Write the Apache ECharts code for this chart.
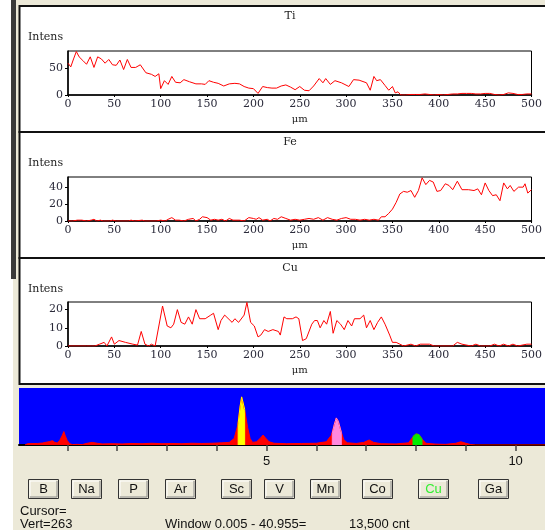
<!DOCTYPE html>
<html>
<head>
<meta charset="utf-8">
<script src="https://cdn.jsdelivr.net/npm/echarts@6/dist/echarts.min.js"></script>
<style>
html,body{margin:0;padding:0;background:#fff;}
#chart{width:545px;height:530px;}
</style>
</head>
<body>
<div id="chart"></div>
<script>
// ---------- DATA ----------
const panelTitles = ['Ti', 'Fe', 'Cu'];
const profileTicks = [0, 50, 100, 150, 200, 250, 300, 350, 400, 450, 500];
const tiTicks = [0, 50];
const feTicks = [0, 20, 40];
const cuTicks = [0, 10, 20];

const tiUm = [0,3,6,9,12,16,20,24,28,32,36,40,44,48,52,56,60,64,68,73,78,84,90,94,98,100,104,108,112,116,121,125,131,138,144,148,152,157,162,168,174,180,185,190,195,200,205,210,215,220,225,230,235,240,245,250,255,260,265,271,275,278,283,288,295,303,308,314,322,326,330,333,337,342,346,350,353,356,359,364,370,375,380,385,390,395,400,405,410,415,420,425,430,435,440,445,450,455,460,465,470,475,480,485,490,495,497,500];
const tiIntens = [60,53,68,82,72,65,58,72,52,72,68,60,67,57,56,66,48,67,52,52,57,42,39,35,40,12,27,20,35,24,23,29,25,21,21,20,27,24,22,17,21,22,21,16,13,12,3,16,14,13,13,17,19,15,10,16,9,8,17,31,23,31,20,27,23,16,29,28,23,9,35,27,29,18,9,16,4,6,0,0,1,1,1,2,1,0,1,0,1,2,2,3,3,3,2,2,3,3,1,0,1,4,3,1,1,2,5,2];

const feUm = [0,5,10,12,15,20,25,28,31,35,38,45,48,52,65,68,72,80,83,95,100,105,108,112,116,120,125,130,135,138,142,145,150,154,158,162,166,170,174,178,185,190,195,200,203,206,210,215,218,222,226,230,235,240,245,250,255,260,265,270,275,280,285,290,295,300,305,310,315,320,325,330,335,338,342,346,350,354,358,362,366,370,374,378,382,386,390,394,398,402,407,411,415,420,425,432,438,442,446,450,454,458,462,466,470,474,477,481,486,491,493,496,500];
const feIntens = [0,0,1,2,1,0,1,2,0,1,0,0,1,0,0,1,0,1,0,0,1,0,2,4,1,1,0,2,3,0,2,5,4,1,2,1,2,0,3,1,1,0,4,3,2,4,1,2,0,3,2,5,3,1,2,1,2,3,2,4,1,4,2,1,3,4,2,2,1,2,1,2,1,5,5,9,14,22,32,35,34,36,28,36,51,43,48,46,35,36,44,42,37,47,37,37,36,38,31,45,36,30,31,24,45,38,42,35,40,40,44,33,37];

const cuUm = [0,20,21,25,29,34,39,42,47,50,55,62,70,75,79,83,87,90,94,102,107,111,114,118,122,126,130,134,138,142,148,154,157,162,165,169,177,180,184,190,193,197,201,205,208,212,216,221,227,229,233,236,242,246,249,253,257,263,266,269,272,276,279,281,283,286,290,294,298,302,306,309,315,319,322,326,330,334,338,342,347,350,354,358,362,370,375,380,390,395,415,420,425,435,440,445,455,460,465,470,475,480,485,495,500];
const cuIntens = [0,0,1,0,0,1,2,0,5,1,3,2,1,0.5,8,1,0,1,0,22,11,10,12,20,13,12,16,12,20,15,15,17,18,9,14,17,13,15,13,17,24,13,11,5,6,9,8,9,8,6,16,15,15,16,15,3,4,12,14,14,10,14,12,13,19,7,14,12,9,14,11,15,15,17,10,14,9,13,16,12,6,2,2,1,0,1,0,1,1,0,0,2,1,0,1,0,0,1,0,1,0,1,0,1,1];

const specKeV = [0.15,0.2,0.4,0.5,0.6,0.65,0.7,0.75,0.8,0.85,0.9,0.93,0.96,1.0,1.05,1.1,1.2,1.3,1.4,1.5,1.6,1.7,1.9,2.1,2.3,2.5,2.7,2.9,3.1,3.3,3.5,3.7,3.9,4.1,4.25,4.35,4.42,4.47,4.5,4.53,4.57,4.62,4.67,4.72,4.8,4.87,4.93,4.98,5.05,5.15,5.4,5.7,6.0,6.2,6.3,6.36,6.4,6.44,6.5,6.55,6.62,6.8,6.95,7.06,7.15,7.3,7.6,7.85,7.93,8.0,8.06,8.13,8.2,8.4,8.6,8.8,8.9,9.0,9.1,9.2,10.6];
const specCounts = [0,6,7,9,14,16,20,12,9,22,45,62,42,20,6,2,3,2,8,12,8,5,6,5,7,6,8,6,7,6,8,7,8,10,12,30,90,180,222,215,150,80,30,12,15,30,46,32,15,8,6,7,8,15,45,95,125,110,60,25,10,7,12,23,12,6,5,10,35,51,48,25,8,4,3,8,15,8,2,0,0];

const tiPeakKeV = [4.43,4.43,4.47,4.5,4.53,4.56,4.56];
const tiPeakCounts = [0,100,180,222,215,165,0];
const fePeakKeV = [6.32,6.32,6.36,6.4,6.44,6.5,6.5];
const fePeakCounts = [0,55,95,125,110,60,0];
const cuPeakKeV = [7.94,7.94,8.0,8.06,8.12,8.12];
const cuPeakCounts = [0,40,51,48,28,0];

const energyTicks = [1,2,3,4,5,6,7,8,9,10];
const energyLabels = [5,10];
const elementButtons = ['B','Na','P','Ar','Sc','V','Mn','Co','Cu','Ga'];
const cursorText = 'Cursor=';
const vertText = 'Vert=263';
const windowText = 'Window 0.005 - 40.955=';
const cntText = '13,500 cnt';

// ---------- LAYOUT ----------
const serif = 'DejaVu Serif';
const sans = 'Liberation Sans';
const panelTops = [6, 132, 258];
const gridTops = [51, 177, 302];
const yMax = [83, 52, 24.2];
const yTicks = [tiTicks, feTicks, cuTicks];
const profX = [tiUm, feUm, cuUm];
const profY = [tiIntens, feIntens, cuIntens];
const zip = (a, b) => a.map((v, i) => [v, b[i]]);

const grids = [], xAxes = [], yAxes = [], series = [], graphics = [];

// backgrounds
graphics.push({type:'rect', z:-100, shape:{x:13, y:0, width:532, height:530}, style:{fill:'#ECE9D8'}});
graphics.push({type:'rect', z:-99, shape:{x:11, y:0, width:5, height:279}, style:{fill:'#3a3a3a'}});

for (let i = 0; i < 3; i++) {
  graphics.push({type:'rect', z:-98, shape:{x:19.5, y:panelTops[i], width:540, height:126},
    style:{fill:'#ffffff', stroke:'#111', lineWidth:2}});
  graphics.push({type:'text', z:10, x:290, y:panelTops[i] + 10,
    style:{text:panelTitles[i], font:'11px "' + serif + '"', fill:'#222', align:'center', verticalAlign:'middle'}});
  graphics.push({type:'text', z:10, x:28, y:panelTops[i] + 31,
    style:{text:'Intens', font:'11px "' + serif + '"', fill:'#222', align:'left', verticalAlign:'middle'}});
  grids.push({left:68, top:gridTops[i], width:464, height:44, show:true, borderColor:'#000', borderWidth:1, backgroundColor:'transparent'});
  xAxes.push({type:'value', gridIndex:i, min:0, max:500, interval:50,
    name:'μm', nameLocation:'middle', nameGap:19,
    nameTextStyle:{fontFamily:serif, fontSize:10, color:'#222'},
    axisLine:{lineStyle:{color:'#000', width:1.5}},
    axisTick:{show:true, length:2, lineStyle:{color:'#000'}},
    axisLabel:{fontFamily:serif, fontSize:11, color:'#2a2a3a', margin:4, customValues:profileTicks},
    splitLine:{show:false}});
  yAxes.push({type:'value', gridIndex:i, min:0, max:yMax[i],
    axisLine:{show:true, lineStyle:{color:'#000', width:1.5}},
    axisTick:{show:true, length:3, lineStyle:{color:'#000'}, customValues:yTicks[i]},
    axisLabel:{fontFamily:serif, fontSize:11, color:'#2a2a3a', margin:5, customValues:yTicks[i]},
    splitLine:{show:false}});
  series.push({type:'line', xAxisIndex:i, yAxisIndex:i, data:zip(profX[i], profY[i]),
    showSymbol:false, symbol:'none', lineStyle:{color:'#ff0000', width:1}, animation:false, z:3});
}

// spectrum
grids.push({left:19, right:0, top:388, height:57, show:true, backgroundColor:'#0000ff', borderWidth:0});
xAxes.push({type:'value', gridIndex:3, min:0.03, max:10.59,
  axisLine:{lineStyle:{color:'#000', width:2}},
  axisTick:{show:true, length:6, inside:false, lineStyle:{color:'#444', width:1.5}, customValues:energyTicks},
  axisLabel:{fontFamily:sans, fontSize:13, color:'#111', margin:10, customValues:energyLabels},
  splitLine:{show:false}});
yAxes.push({type:'value', gridIndex:3, min:0, max:263, show:false, splitLine:{show:false}});
const spec = (kev, cnt, color) => ({type:'line', xAxisIndex:3, yAxisIndex:3, data:zip(kev, cnt),
  showSymbol:false, symbol:'none', lineStyle:{color:color, width:1}, areaStyle:{color:color, opacity:1}, animation:false, z:4});
series.push(spec(specKeV, specCounts, '#ff0000'));
series.push(spec(tiPeakKeV, tiPeakCounts, '#ffff00'));
series.push(spec(fePeakKeV, fePeakCounts, '#ff88dd'));
series.push(spec(cuPeakKeV, cuPeakCounts, '#00ee00'));

// buttons
const btnX = [28,71,118,165,221,264,310,362,418,478];
elementButtons.forEach((lab, k) => {
  const x = btnX[k], y = 479, w = 30, h = 19;
  graphics.push({type:'rect', z:5, shape:{x:x+0.5, y:y+0.5, width:w, height:h}, style:{fill:'#ECE9D8', stroke:'#333', lineWidth:1}});
  graphics.push({type:'polyline', z:6, shape:{points:[[x+2,y+h-1],[x+w-1,y+h-1],[x+w-1,y+2]]}, style:{stroke:'#888', lineWidth:1, fill:null}});
  graphics.push({type:'polyline', z:6, shape:{points:[[x+2,y+h-2],[x+2,y+2],[x+w-2,y+2]]}, style:{stroke:'#fff', lineWidth:1, fill:null}});
  graphics.push({type:'text', z:7, x:x+w/2+0.5, y:y+h/2+1,
    style:{text:lab, font:'13px "' + sans + '"', fill: lab === 'Cu' ? '#33ee33' : '#111', align:'center', verticalAlign:'middle'}});
});

graphics.push({type:'text', z:7, x:20, y:511, style:{text:cursorText, font:'13px "' + sans + '"', fill:'#111', verticalAlign:'middle'}});
graphics.push({type:'text', z:7, x:20, y:524, style:{text:vertText, font:'13px "' + sans + '"', fill:'#111', verticalAlign:'middle'}});
graphics.push({type:'text', z:7, x:165, y:524, style:{text:windowText, font:'13px "' + sans + '"', fill:'#111', verticalAlign:'middle'}});
graphics.push({type:'text', z:7, x:349, y:524, style:{text:cntText, font:'13px "' + sans + '"', fill:'#111', verticalAlign:'middle'}});

const chart = echarts.init(document.getElementById('chart'), null, {renderer:'canvas'});
chart.setOption({
  animation:false,
  backgroundColor:'#ffffff',
  grid:grids, xAxis:xAxes, yAxis:yAxes, series:series,
  graphic:{elements:graphics}
});
</script>
</body>
</html>
